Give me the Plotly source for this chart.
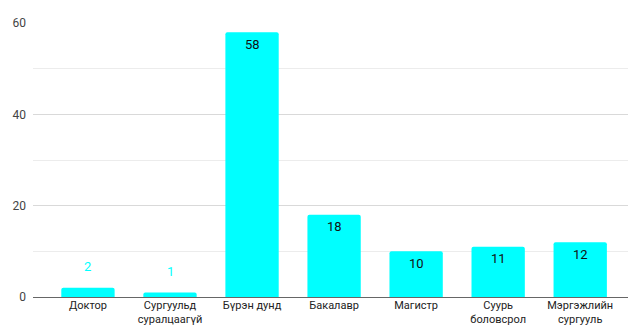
import plotly.graph_objects as go

categories = ["Доктор", "Сургуульд<br>суралцаагүй", "Бүрэн дунд", "Бакалавр",
              "Магистр", "Суурь<br>боловсрол", "Мэргэжлийн<br>сургууль"]
values = [2, 1, 58, 18, 10, 11, 12]
y_ticks = [0, 20, 40, 60]

CYAN = "#00FFFF"

fig = go.Figure()
fig.add_trace(go.Bar(
    x=categories, y=values,
    marker=dict(color=CYAN, line=dict(width=0), cornerradius=2),
    width=0.65,
    hoverinfo="skip",
))

for c, v in zip(categories, values):
    if v < 5:
        fig.add_annotation(x=c, y=v, text=str(v), showarrow=False, yshift=21,
                           font=dict(family="Roboto", size=13, color=CYAN))
    else:
        fig.add_annotation(x=c, y=v, text=str(v), showarrow=False, yshift=-12,
                           font=dict(family="Roboto", size=13, color="#111111"))

fig.update_layout(
    width=628, height=318,
    margin=dict(l=25, r=0, t=15, b=29, autoexpand=False),
    paper_bgcolor="white", plot_bgcolor="white",
    showlegend=False,
    font=dict(family="Roboto", color="#333333"),
    bargap=0.35,
)
fig.update_xaxes(
    range=[-0.67, 6.68], automargin=False,
    showgrid=False, showline=False, ticks="",
    tickfont=dict(size=11, color="#222222"),
    ticklabelstandoff=0,
)
fig.update_yaxes(
    range=[0, 60], tickvals=y_ticks, automargin=False,
    showgrid=True, gridcolor="#d9d9d9", gridwidth=1,
    minor=dict(tickvals=[10, 30, 50], showgrid=True, gridcolor="#ececec", gridwidth=1),
    zeroline=True, zerolinecolor="#666666", zerolinewidth=1,
    tickfont=dict(size=12, color="#444444"),
    ticklabelstandoff=6,
    showline=False, ticks="",
)

fig.write_html("out.html")
